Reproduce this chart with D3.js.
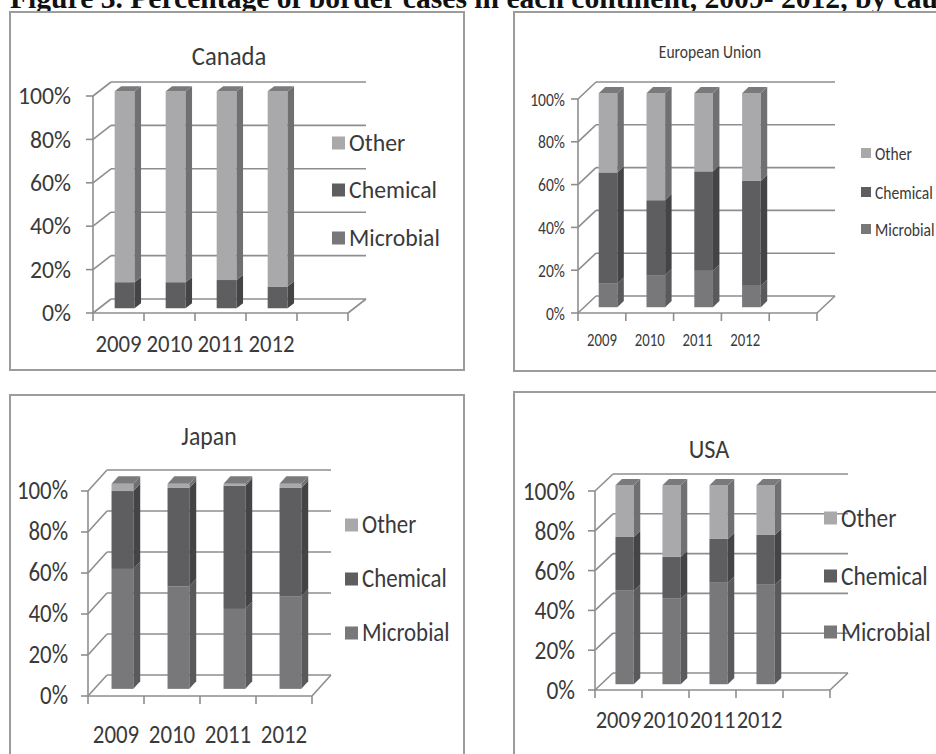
<!DOCTYPE html>
<html>
<head>
<meta charset="utf-8">
<script src="https://cdn.jsdelivr.net/npm/d3@7"></script>
<style>
  body { margin: 0; background: #fff; }
  svg { display: block; }
  .lbl { font-family: Carlito, "Liberation Sans Narrow", "DejaVu Sans Condensed", "Open Sans", sans-serif; fill: #3a3a3a; }
</style>
</head>
<body>
<script>
// categories and series
let years = ["2009", "2010", "2011", "2012"];
let seriesNames = ["Microbial", "Chemical", "Other"];
let yTicks = [0, 20, 40, 60, 80, 100];

// percentages
let canadaMicrobial = [0, 0, 0, 0];
let canadaChemical = [12, 12, 13, 10];
let canadaOther = [88, 88, 87, 90];

let euMicrobial = [11, 15, 17, 10];
let euChemical = [52, 35, 46.5, 49];
let euOther = [37, 50, 36.5, 41];

let japanMicrobial = [58.5, 50, 39, 45];
let japanChemical = [38, 48, 60, 53];
let japanOther = [3.5, 2, 1, 2];

let usaMicrobial = [47, 43, 51, 50];
let usaChemical = [27, 21, 22, 25];
let usaOther = [26, 36, 27, 25];

let figureTitle = "Figure 3. Percentage of border cases in each continent, 2009- 2012, by cause";

let W = 936, H = 754;

let faceColor = { Microbial: "#78787b", Chemical: "#5e5e61", Other: "#a9a9ab" };
let sideColor = { Microbial: "#5a5a5d", Chemical: "#444447", Other: "#707073" };
let topColor = { Microbial: "#6c6c6f", Chemical: "#545457", Other: "#7a7a7d" };

// layout for each small chart (sx = horizontal squeeze of the scanned text)
let panels = [
  { name: "Canada", data: [canadaMicrobial, canadaChemical, canadaOther],
    box: [10, 12, 454, 358], titleX: 229, titleY: 65, titleSize: 26, sx: 0.95,
    x0: 93, y0: 313, y100: 96, plotW: 255, slots: 5, dx: 18, dy: -14,
    tickSize: 25, tickGap: 22, yearY: 352, yearSize: 24,
    legX: 332, legY: [143, 190, 238], sw: 13, legSize: 25 },
  { name: "European Union", data: [euMicrobial, euChemical, euOther],
    box: [514, 12, 460, 359], titleX: 710, titleY: 58, titleSize: 19, sx: 0.82,
    x0: 578, y0: 313, y100: 99, plotW: 239, slots: 5, dx: 18, dy: -17,
    tickSize: 19, tickGap: 13, yearY: 346, yearSize: 18,
    legX: 861, legY: [153, 192, 229], sw: 10, legSize: 19 },
  { name: "Japan", data: [japanMicrobial, japanChemical, japanOther],
    box: [10, 395, 454, 380], titleX: 209, titleY: 445, titleSize: 27, sx: 0.88,
    x0: 88, y0: 696, y100: 491, plotW: 224, slots: 4, dx: 19, dy: -21,
    tickSize: 26, tickGap: 20, yearY: 743, yearSize: 26,
    legX: 345, legY: [525, 579, 633], sw: 13, legSize: 26 },
  { name: "USA", data: [usaMicrobial, usaChemical, usaOther],
    box: [514, 392, 460, 380], titleX: 709, titleY: 458, titleSize: 27, sx: 0.9,
    x0: 595, y0: 690, y100: 491, plotW: 235, slots: 5, dx: 18, dy: -17,
    tickSize: 26, tickGap: 20, yearY: 728, yearSize: 25,
    legX: 824, legY: [518, 576, 632], sw: 13, legSize: 26 }
];

let svg = d3.select("body").append("svg").attr("width", W).attr("height", H);

// figure caption, cut off at the top and right like the scan
svg.append("text")
  .attr("x", 10).attr("y", 8)
  .style("font-family", "'Liberation Serif', 'Times New Roman', serif")
  .style("font-weight", "bold").style("font-size", "29.6px").style("fill", "#111")
  .text(figureTitle);

panels.forEach(drawPanel);

// squeezed text placed at (x, y)
function addText(g, x, y, str, size, sx, anchor, baseline) {
  return g.append("text").attr("class", "lbl")
    .attr("transform", "translate(" + x + "," + y + ") scale(" + sx + ",1)")
    .attr("text-anchor", anchor || "start")
    .attr("dominant-baseline", baseline || "auto")
    .style("font-size", size + "px")
    .text(str);
}

function drawPanel(p) {
  let g = svg.append("g");

  g.append("rect")
    .attr("x", p.box[0]).attr("y", p.box[1]).attr("width", p.box[2]).attr("height", p.box[3])
    .style("fill", "#fff").style("stroke", "#9c9c9c").style("stroke-width", 2);

  addText(g, p.titleX, p.titleY, p.name, p.titleSize, p.sx, "middle");

  let slotNames = years.slice();
  while (slotNames.length < p.slots) slotNames.push("_" + slotNames.length);

  let x = d3.scaleBand().domain(slotNames).range([p.x0, p.x0 + p.plotW]);
  let y = d3.scaleLinear().domain([0, 100]).range([p.y0, p.y100]);

  let grid = g.append("g").style("stroke", "#8e8e8e").style("stroke-width", 1.6).style("fill", "none");

  // back wall gridlines + side wall diagonals
  yTicks.forEach(function(t) {
    grid.append("line")
      .attr("x1", p.x0 + p.dx).attr("y1", y(t) + p.dy)
      .attr("x2", p.x0 + p.plotW + p.dx).attr("y2", y(t) + p.dy);
    grid.append("line")
      .attr("x1", p.x0).attr("y1", y(t))
      .attr("x2", p.x0 + p.dx).attr("y2", y(t) + p.dy);
    grid.append("line")
      .attr("x1", p.x0 - 7).attr("y1", y(t))
      .attr("x2", p.x0).attr("y2", y(t));
  });

  // value axis and floor
  grid.append("line").attr("x1", p.x0).attr("y1", y(0)).attr("x2", p.x0).attr("y2", y(100));
  grid.append("line").attr("x1", p.x0).attr("y1", y(0)).attr("x2", p.x0 + p.plotW).attr("y2", y(0));
  grid.append("line")
    .attr("x1", p.x0 + p.plotW).attr("y1", y(0))
    .attr("x2", p.x0 + p.plotW + p.dx).attr("y2", y(0) + p.dy);

  // category ticks on band edges
  d3.range(p.slots + 1).forEach(function(i) {
    let xx = p.x0 + i * x.bandwidth();
    grid.append("line").attr("x1", xx).attr("y1", y(0)).attr("x2", xx).attr("y2", y(0) + 8);
  });

  // tick labels
  yTicks.forEach(function(t) {
    addText(g, p.x0 - p.tickGap, y(t), t + "%", p.tickSize, p.sx, "end", "central");
  });
  years.forEach(function(yr) {
    addText(g, x(yr) + x.bandwidth() / 2, p.yearY, yr, p.yearSize, p.sx, "middle");
  });

  // stacked 3D columns
  let f1 = 0.34, f2 = 0.70;
  let bw = x.bandwidth() * 0.39;
  let ddx = (f2 - f1) * p.dx, ddy = (f2 - f1) * p.dy;

  years.forEach(function(yr, i) {
    let bx = x(yr) + x.bandwidth() / 2 - bw / 2 + f1 * p.dx;
    let off = f1 * p.dy;
    let base = 0;
    let topName = null;
    seriesNames.forEach(function(s, k) {
      let v = p.data[k][i];
      if (v <= 0) return;
      let yb = y(base) + off, yt = y(base + v) + off;
      g.append("rect")
        .attr("x", bx).attr("y", yt).attr("width", bw).attr("height", yb - yt)
        .style("fill", faceColor[s]);
      g.append("path")
        .attr("d", d3.line()([[bx + bw, yb], [bx + bw, yt], [bx + bw + ddx, yt + ddy], [bx + bw + ddx, yb + ddy]]) + "Z")
        .style("fill", sideColor[s]);
      base += v;
      topName = s;
    });
    let yt = y(base) + off;
    g.append("path")
      .attr("d", d3.line()([[bx, yt], [bx + bw, yt], [bx + bw + ddx, yt + ddy], [bx + ddx, yt + ddy]]) + "Z")
      .style("fill", topColor[topName]);
  });

  // legend, top entry first
  let legOrder = ["Other", "Chemical", "Microbial"];
  legOrder.forEach(function(s, k) {
    g.append("rect")
      .attr("x", p.legX).attr("y", p.legY[k] - p.sw / 2).attr("width", p.sw).attr("height", p.sw)
      .style("fill", faceColor[s]);
    addText(g, p.legX + p.sw + 4, p.legY[k], s, p.legSize, p.sx, "start", "central");
  });
}
</script>
</body>
</html>
